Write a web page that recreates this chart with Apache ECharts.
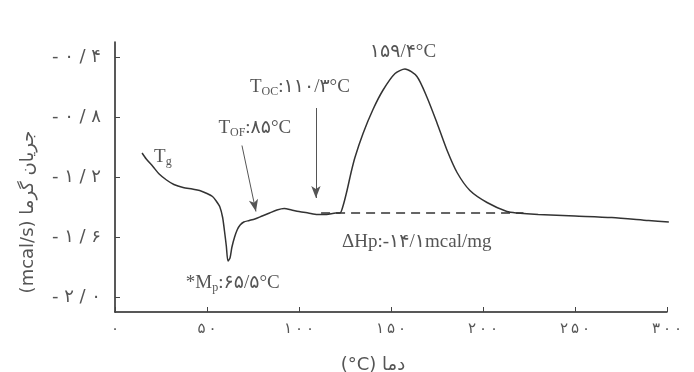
<!DOCTYPE html>
<html>
<head>
<meta charset="utf-8">
<script src="https://cdn.jsdelivr.net/npm/echarts@6/dist/echarts.min.js"></script>
<style>html,body{margin:0;background:#fff}#main{width:694px;height:372px}</style>
</head>
<body>
<div id="main"></div>
<script>
// DSC curve
var temps = [14.7, 17, 20.6, 24, 28, 32, 37, 42, 46, 50, 53, 55, 57, 58.5, 59.5, 60.5, 61.4, 62.5, 63.5, 65, 66.5, 68, 70, 73, 76, 80, 84, 88, 92, 96, 100, 105, 110, 115, 120, 122.3, 124, 126.1, 128.3, 130.4, 134.8, 140.2, 145.7, 152.2, 157.6, 164.1, 169.6, 175, 180.4, 185.9, 192.9, 202.2, 213, 218.5, 230, 250, 270, 290, 301];
var flows = [-1.04, -1.08, -1.13, -1.18, -1.22, -1.25, -1.27, -1.28, -1.29, -1.31, -1.33, -1.36, -1.40, -1.47, -1.56, -1.66, -1.76, -1.74, -1.67, -1.60, -1.55, -1.52, -1.50, -1.49, -1.48, -1.46, -1.44, -1.42, -1.41, -1.42, -1.43, -1.44, -1.45, -1.45, -1.44, -1.44, -1.39, -1.29, -1.17, -1.07, -0.91, -0.75, -0.62, -0.51, -0.48, -0.53, -0.67, -0.84, -1.02, -1.17, -1.29, -1.37, -1.43, -1.44, -1.45, -1.46, -1.47, -1.49, -1.50];
var baseT = [112, 222];
var baseV = [-1.44, -1.44];
var xTicks = ['۰', '۵۰', '۱۰۰', '۱۵۰', '۲۰۰', '۲۵۰', '۳۰۰'];
var yTickValues = [-2.0, -1.6, -1.2, -0.8, -0.4];
var yTicks = ['-۲/۰', '-۱/۶', '-۱/۲', '-۰/۸', '-۰/۴'];

function spaced(s, gap) {
    return s.split('').join(gap);
}

var chart = echarts.init(document.getElementById('main'));
var gray = '#555';
var serif = 'Liberation Serif, DejaVu Sans';
var rich = {
    t: {fontSize: 19, lineHeight: 22, color: gray, fontFamily: serif},
    s: {fontSize: 12, lineHeight: 12, verticalAlign: 'bottom', color: gray, fontFamily: serif}
};

function note(coord, text) {
    return {
        coord: coord,
        symbolSize: 0,
        label: {show: true, position: 'inside', formatter: text, rich: rich}
    };
}

var option = {
    animation: false,
    grid: {left: 115, right: 27, top: 42, bottom: 60, outerBoundsMode: 'none'},
    xAxis: {
        type: 'value',
        min: 0,
        max: 300,
        interval: 50,
        name: '(°C) دما',
        nameLocation: 'middle',
        nameGap: 44,
        nameTextStyle: {color: gray, fontSize: 18, fontFamily: 'DejaVu Sans', padding: [0, 36, 0, 0]},
        axisLine: {onZero: false, lineStyle: {color: '#222', width: 1.5}},
        axisTick: {inside: true, length: 5, lineStyle: {color: '#444'}},
        splitLine: {show: false},
        axisLabel: {
            color: gray, fontSize: 15, fontFamily: 'DejaVu Sans', margin: 10,
            formatter: function (v) { return spaced(xTicks[Math.round(v / 50)], '\u2009'); }
        }
    },
    yAxis: {
        type: 'value',
        min: -2.1,
        max: -0.3,
        name: '(mcal/s) جریان گرما',
        nameLocation: 'middle',
        nameGap: 78,
        nameRotate: 90,
        nameTextStyle: {color: gray, fontSize: 18, fontFamily: 'DejaVu Sans', padding: [0, 70, 0, 0]},
        axisLine: {onZero: false, lineStyle: {color: '#222', width: 1.5}},
        axisTick: {inside: true, length: 5, customValues: yTickValues, lineStyle: {color: '#444'}},
        splitLine: {show: false},
        axisLabel: {
            color: gray, fontSize: 18, fontFamily: 'DejaVu Sans', margin: 14,
            customValues: yTickValues,
            formatter: function (v) {
                var i = yTickValues.findIndex(function (t) { return Math.abs(t - v) < 1e-6; });
                return i < 0 ? '' : spaced(yTicks[i], ' ');
            }
        }
    },
    series: [
        {
            type: 'line',
            data: temps.map(function (t, i) { return [t, flows[i]]; }),
            showSymbol: false,
            smooth: 0.25,
            lineStyle: {color: '#333', width: 1.5},
            markLine: {
                silent: true,
                symbol: ['none', 'arrow'],
                symbolSize: [7, 12],
                label: {show: false},
                lineStyle: {color: '#555', width: 1, type: 'solid'},
                data: [
                    [{coord: [69, -0.99]}, {coord: [76.6, -1.43]}],
                    [{coord: [109.2, -0.74]}, {coord: [109.2, -1.34]}]
                ]
            },
            markPoint: {
                silent: true,
                data: [
                    note([26, -1.067], '{t|T}{s|g}'),
                    note([76, -0.873], '{t|T}{s|OF}{t|:۸۵°C}'),
                    note([100.5, -0.60], '{t|T}{s|OC}{t|:۱۱۰/۳°C}'),
                    note([156.5, -0.367], '{t|۱۵۹/۴°C}'),
                    note([164, -1.633], '{t|ΔHp:-۱۴/۱mcal/mg}'),
                    note([64, -1.907], '{t|*M}{s|p}{t|:۶۵/۵°C}')
                ]
            }
        },
        {
            type: 'line',
            data: baseT.map(function (t, i) { return [t, baseV[i]]; }),
            showSymbol: false,
            lineStyle: {color: '#333', width: 1.5, type: [9, 6]}
        }
    ]
};
chart.setOption(option);
</script>
</body>
</html>
